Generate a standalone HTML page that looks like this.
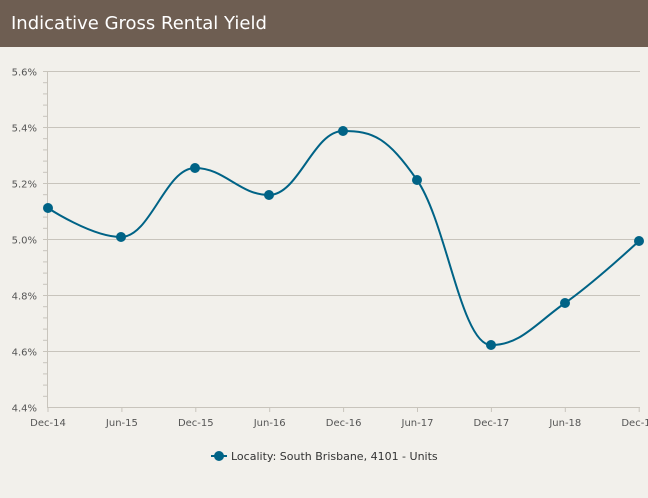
<!DOCTYPE html>
<html><head><style>
body{margin:0;width:648px;height:498px;background:#f2f0eb;font-family:"DejaVu Sans","Liberation Sans",sans-serif;overflow:hidden}
.hdr{position:absolute;left:0;top:0;width:648px;height:47px;background:#6e5e52;color:#fff;font-size:18px;line-height:47px;padding-left:11px;box-sizing:border-box}
</style></head><body>
<div class="hdr">Indicative Gross Rental Yield</div>
<svg id="s" width="648" height="498" style="position:absolute;left:0;top:0" font-family="DejaVu Sans, Liberation Sans, sans-serif">
<g id="grid" stroke="#c8c4bc" stroke-width="1"></g>
<g id="lab" font-size="10" fill="#555"></g>
<path id="ln" fill="none" stroke="#006386" stroke-width="2"></path>
<g id="pts" fill="#006386"></g>
<line x1="211" y1="456" x2="227" y2="456" stroke="#006386" stroke-width="2"/>
<circle cx="219" cy="456" r="5" fill="#006386"/>
<text x="231" y="460" font-size="11" fill="#333">Locality: South Brisbane, 4101 - Units</text>
</svg>
<script>
var g=document.getElementById('grid'),lab=document.getElementById('lab'),ns='http://www.w3.org/2000/svg';
function el(p,t,a,txt){var e=document.createElementNS(ns,t);for(var k in a)e.setAttribute(k,a[k]);if(txt)e.textContent=txt;p.appendChild(e);return e;}
var yl=['5.6%','5.4%','5.2%','5.0%','4.8%','4.6%','4.4%'];
for(var i=0;i<7;i++){var y=71.5+56*i;el(g,'line',{x1:47,x2:640,y1:y,y2:y});el(lab,'text',{x:37,y:y+4,'text-anchor':'end'},yl[i]);}
for(var y=71.5;y<407;y+=11.2)el(g,'line',{x1:43,x2:47,y1:y,y2:y});
el(g,'line',{x1:47.5,x2:47.5,y1:71,y2:407});
var xl=['Dec-14','Jun-15','Dec-15','Jun-16','Dec-16','Jun-17','Dec-17','Jun-18','Dec-18'];
var P=[[48,208],[121,237],[195,168],[269,195],[343,131],[417,180],[491,345],[565,303],[639,241]];
for(var i=0;i<9;i++){var x=48+73.9*i;el(g,'line',{x1:x,x2:x,y1:407,y2:412});el(lab,'text',{x:x,y:426,'text-anchor':'middle'},xl[i]);}
function cont(i){var p=P[i],a=P[i-1],b=P[i+1];if(!a||!b)return null;var s=1.5,d=2.5;
var lx=(s*p[0]+a[0])/d,ly=(s*p[1]+a[1])/d,rx=(s*p[0]+b[0])/d,ry=(s*p[1]+b[1])/d;
var c=((ry-ly)*(rx-p[0]))/(rx-lx)+p[1]-ry;ly+=c;ry+=c;
if(ly>a[1]&&ly>p[1]){ly=Math.max(a[1],p[1]);ry=2*p[1]-ly;}else if(ly<a[1]&&ly<p[1]){ly=Math.min(a[1],p[1]);ry=2*p[1]-ly;}
if(ry>b[1]&&ry>p[1]){ry=Math.max(b[1],p[1]);ly=2*p[1]-ry;}else if(ry<b[1]&&ry<p[1]){ry=Math.min(b[1],p[1]);ly=2*p[1]-ry;}
return {l:[lx,ly],r:[rx,ry]};}
var d='M'+P[0];
for(var i=1;i<9;i++){var pc=cont(i-1),cc=cont(i);var c1=pc?pc.r:P[i-1],c2=cc?cc.l:P[i];d+=' C'+c1+' '+c2+' '+P[i];}
document.getElementById('ln').setAttribute('d',d);
var pts=document.getElementById('pts');P.forEach(function(p){el(pts,'circle',{cx:p[0],cy:p[1],r:5});});
</script>
</body></html>
